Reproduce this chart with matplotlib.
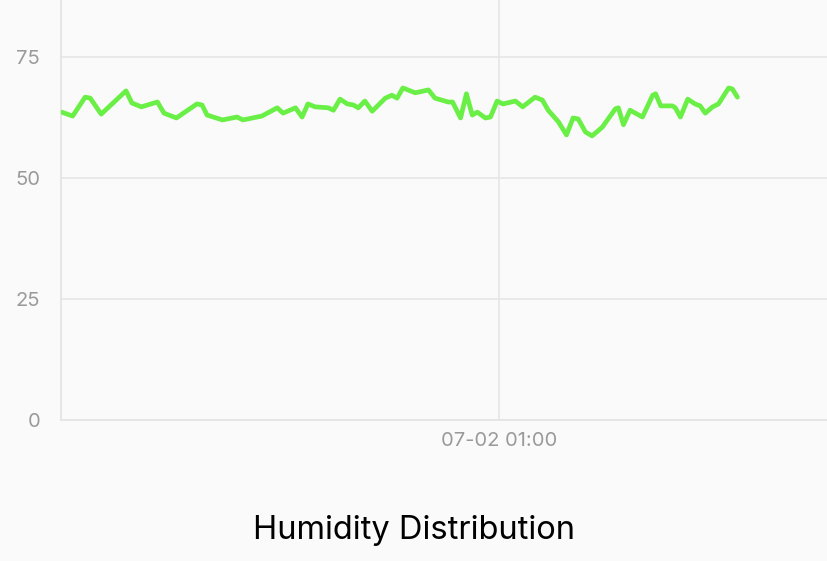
import matplotlib
matplotlib.use("Agg")
import matplotlib.pyplot as plt
import matplotlib.dates as mdates
import pandas as pd

# minutes after 07-02 00:00 and humidity readings (%)
minutes = [0.1, 1.6, 3.3, 4.0, 5.5, 8.9, 9.7, 11.0, 13.2, 14.1, 15.8, 18.6, 19.3, 20.0,
           22.1, 24.1, 24.9, 27.5, 29.6, 30.4, 32.1, 33.0, 33.8, 34.8, 36.6, 37.3, 38.2,
           39.2, 40.0, 40.7, 41.6, 42.6, 44.4, 45.3, 46.0, 46.8, 48.5, 50.3, 51.2, 53.0,
           53.6, 54.7, 55.5, 56.3, 57.0, 58.1, 58.8, 59.7, 60.5, 62.2, 63.2, 64.9, 65.9,
           66.7, 68.1, 69.2, 70.1, 70.8, 71.8, 72.7, 74.1, 75.9, 76.3, 77.0, 77.9, 79.6,
           81.0, 81.4, 82.1, 83.7, 84.1, 84.8, 85.8, 86.8, 87.5, 88.2, 89.2, 90.0, 91.4,
           91.9, 92.6]
humidity = [63.6, 62.8, 66.7, 66.5, 63.2, 68.0, 65.5, 64.7, 65.7, 63.4, 62.4, 65.3, 65.1, 63.0,
            62.0, 62.6, 62.0, 62.8, 64.5, 63.4, 64.5, 62.6, 65.3, 64.7, 64.5, 64.0, 66.3,
            65.3, 65.1, 64.5, 65.9, 63.8, 66.5, 67.1, 66.5, 68.6, 67.6, 68.2, 66.5, 65.7,
            65.7, 62.4, 67.4, 63.0, 63.6, 62.4, 62.6, 65.9, 65.3, 65.9, 64.7, 66.7, 66.1,
            64.0, 61.6, 58.9, 62.4, 62.2, 59.5, 58.7, 60.5, 64.3, 64.5, 61.0, 64.0, 62.6,
            67.1, 67.4, 64.9, 64.9, 64.5, 62.6, 66.3, 65.3, 64.9, 63.4, 64.7, 65.3, 68.6,
            68.4, 66.7]
y_ticks = [0, 25, 50, 75]
title = "Humidity Distribution"

start = pd.Timestamp("2024-07-02 00:00")
times = [start + pd.Timedelta(minutes=m) for m in minutes]

bg = "#fafafa"
fig = plt.figure(figsize=(8.28, 5.61), dpi=100, facecolor=bg)
ax = fig.add_axes([61 / 828, (561 - 420) / 561, 1 - 61 / 828, 420 / 561])
ax.set_facecolor(bg)

ax.plot(times, humidity, color="#6aef46", linewidth=3.4, solid_joinstyle="round",
        solid_capstyle="round", zorder=3)

ax.set_ylim(0, 420 / 4.84)
ax.set_xlim(start, start + pd.Timedelta(minutes=105))
ax.set_yticks(y_ticks)
ax.xaxis.set_major_locator(mdates.HourLocator(byhour=[1]))
ax.xaxis.set_major_formatter(mdates.DateFormatter("%m-%d %H:%M"))

ax.grid(True, color="#e6e6e6", linewidth=1.2, zorder=0)
for side in ["top", "right"]:
    ax.spines[side].set_visible(False)
for side in ["left", "bottom"]:
    ax.spines[side].set_color("#e3e3e3")
    ax.spines[side].set_linewidth(1.2)

ax.tick_params(axis="both", length=0, colors="#9a9a9a", labelsize=14.5)
ax.tick_params(axis="y", pad=15)
ax.tick_params(axis="x", pad=9)
for lab in ax.get_xticklabels() + ax.get_yticklabels():
    lab.set_fontfamily("Inter")

fig.text(414 / 828, 1 - 530 / 561, title, ha="center", va="center", fontsize=23.5,
         color="#000000", family="Inter")

fig.savefig("out.png", dpi=100, facecolor=bg)
